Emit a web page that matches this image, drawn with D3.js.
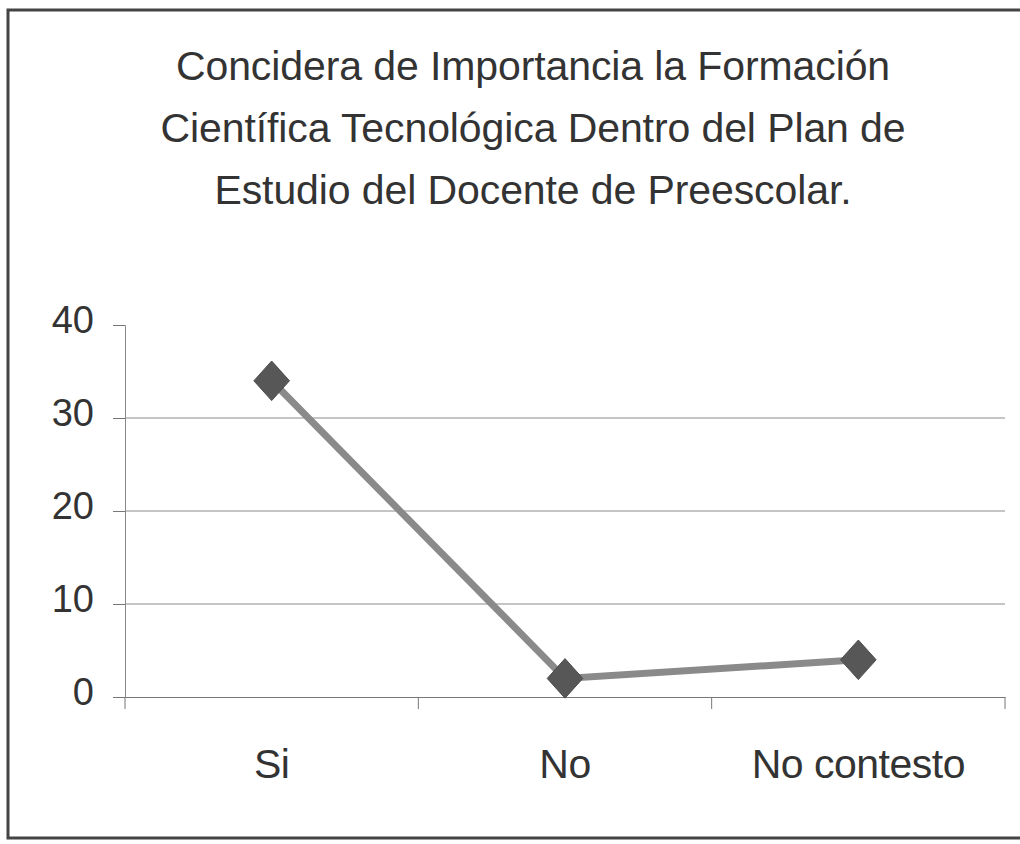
<!DOCTYPE html>
<html>
<head>
<meta charset="utf-8">
<script src="https://cdn.jsdelivr.net/npm/d3@7"></script>
<style>
  body { margin: 0; background: #fff; }
  text { font-family: "Liberation Sans", Arial, sans-serif; fill: #333; }
</style>
</head>
<body>
<script>
const width = 1020;
const height = 844;

// data
const categories = ["Si", "No", "No contesto"];
const values = [34, 2, 4];
const yTicks = [0, 10, 20, 30, 40];
const titleLines = [
  "Concidera de Importancia la Formación",
  "Científica Tecnológica Dentro del Plan de",
  "Estudio del Docente de Preescolar."
];

const margin = { top: 325, right: 15, bottom: 147, left: 125 };

const svg = d3.select("body").append("svg")
  .attr("width", width)
  .attr("height", height);

svg.append("rect")
  .attr("x", 8).attr("y", 10)
  .attr("width", 1030).attr("height", 828)
  .attr("fill", "#fff")
  .attr("stroke", "#444")
  .attr("stroke-width", 3);

const x = d3.scaleBand()
  .domain(categories)
  .range([margin.left, width - margin.right]);

const y = d3.scaleLinear()
  .domain([0, 40])
  .range([height - margin.bottom, margin.top]);

// title
svg.append("g")
  .selectAll("text")
  .data(titleLines)
  .enter().append("text")
  .attr("x", 533)
  .attr("y", (d, i) => 80 + i * 62)
  .attr("text-anchor", "middle")
  .style("font-size", "41px")
  .style("letter-spacing", "-0.1px")
  .text((d) => d);

// gridlines
svg.append("g")
  .selectAll("line")
  .data(yTicks.filter((d) => d > 0 && d < 40))
  .enter().append("line")
  .attr("x1", margin.left)
  .attr("x2", width - margin.right)
  .attr("y1", (d) => y(d))
  .attr("y2", (d) => y(d))
  .attr("stroke", "#8c8c8c")
  .attr("stroke-width", 1.2);

// y axis
const yAxis = svg.append("g")
  .attr("transform", `translate(${ margin.left },0)`)
  .call(d3.axisLeft(y).tickValues(yTicks).tickSize(12).tickPadding(19));
yAxis.select(".domain").attr("stroke", "#888");
yAxis.selectAll(".tick line").attr("stroke", "#777");
yAxis.selectAll("text")
  .style("font-size", "38px")
  .attr("dy", "7px")
  .attr("fill", "#333");

// x axis
const xAxis = svg.append("g")
  .attr("transform", `translate(0,${ y(0) })`)
  .call(d3.axisBottom(x).tickSize(0).tickPadding(52));
xAxis.select(".domain").attr("stroke", "#777").attr("stroke-width", 1.2);
xAxis.selectAll("text")
  .style("font-size", "41px")
  .style("letter-spacing", "-0.5px")
  .attr("fill", "#333");

svg.append("g")
  .selectAll("line")
  .data(d3.range(categories.length + 1))
  .enter().append("line")
  .attr("x1", (i) => margin.left + i * x.step())
  .attr("x2", (i) => margin.left + i * x.step())
  .attr("y1", y(0))
  .attr("y2", y(0) + 12)
  .attr("stroke", "#777");

// series
const pts = categories.map((c, i) => ({ c: c, v: values[i] }));

svg.append("path")
  .datum(pts)
  .attr("fill", "none")
  .attr("stroke", "#8a8a8a")
  .attr("stroke-width", 7)
  .attr("d", d3.line()
    .x((d) => x(d.c) + x.bandwidth() / 2)
    .y((d) => y(d.v)));

svg.append("g")
  .selectAll("path")
  .data(pts)
  .enter().append("path")
  .attr("transform", (d) => `translate(${ x(d.c) + x.bandwidth() / 2 },${ y(d.v) }) scale(0.9,1)`)
  .attr("d", d3.symbol().type(d3.symbolDiamond2).size(1000))
  .attr("fill", "#575757")
  .attr("stroke", "#4a4a4a")
  .attr("stroke-width", 1);
</script>
</body>
</html>
